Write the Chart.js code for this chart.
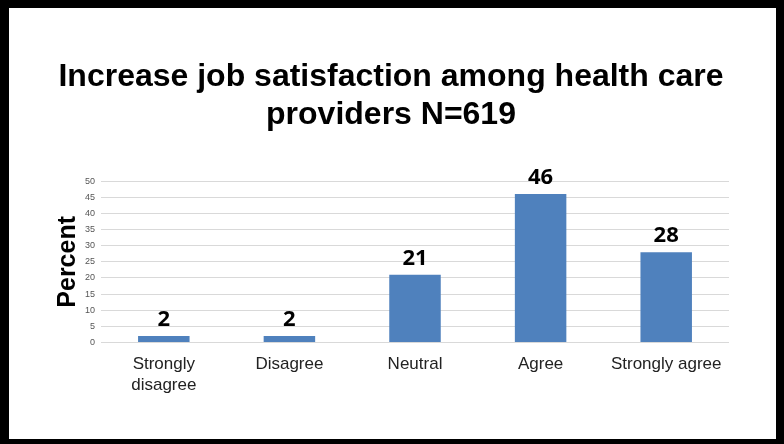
<!DOCTYPE html>
<html lang="en">
<head>
    <meta charset="UTF-8">
    <title>Job satisfaction</title>
    <script src="https://cdn.jsdelivr.net/npm/chart.js"></script>
    <style>
        html, body { margin: 0; padding: 0; background: #000; }
        body { width: 784px; height: 444px; position: relative; overflow: hidden; }
        #frame { position: absolute; left: 9px; top: 8px; width: 767px; height: 431px; background: #fff; }
    </style>
</head>
<body>
    <div id="frame"><canvas id="satisfactionChart" width="767" height="431"></canvas></div>

    <script>
        const categories = [['Strongly', 'disagree'], 'Disagree', 'Neutral', 'Agree', 'Strongly agree'];
        const percents = [2, 2, 21, 46, 28];
        const yTicks = [0, 5, 10, 15, 20, 25, 30, 35, 40, 45, 50];

        // draw the value of each bar just above it
        const valueLabels = {
            id: 'valueLabels',
            afterDatasetsDraw(chart) {
                const ctx = chart.ctx;
                const meta = chart.getDatasetMeta(0);
                ctx.save();
                ctx.font = 'bold 22px "Open Sans", sans-serif';
                ctx.fillStyle = '#000';
                ctx.textAlign = 'center';
                ctx.textBaseline = 'bottom';
                meta.data.forEach((bar, i) => {
                    ctx.fillText(percents[i], bar.x, bar.y - 5);
                });
                ctx.restore();
            }
        };

        const ctx = document.getElementById('satisfactionChart').getContext('2d');
        const chart = new Chart(ctx, {
            type: 'bar',
            data: {
                labels: categories,
                datasets: [{
                    label: 'Percent',
                    data: percents,
                    backgroundColor: '#4f81bd',
                    categoryPercentage: 1.0,
                    barPercentage: 0.41
                }]
            },
            options: {
                responsive: false,
                animation: false,
                layout: { padding: { left: 44, right: 47, top: 0, bottom: 40 } },
                plugins: {
                    legend: { display: false },
                    tooltip: { enabled: false },
                    title: {
                        display: true,
                        text: ['Increase job satisfaction among health care', 'providers N=619'],
                        color: '#000',
                        font: { family: '"Liberation Sans", Arial, sans-serif', size: 32, weight: 'bold', lineHeight: 1.19 },
                        padding: { top: 50, bottom: 47 }
                    }
                },
                scales: {
                    x: {
                        grid: { display: false },
                        border: { display: false },
                        ticks: {
                            color: '#222',
                            font: { family: '"Liberation Sans", Arial, sans-serif', size: 17, lineHeight: 1.25 },
                            maxRotation: 0,
                            autoSkip: false,
                            padding: 3
                        }
                    },
                    y: {
                        min: 0,
                        max: 50,
                        afterBuildTicks(scale) {
                            scale.ticks = yTicks.map(v => ({ value: v }));
                        },
                        grid: { color: '#d9d9d9', drawTicks: false },
                        border: { display: false },
                        ticks: {
                            color: '#555',
                            font: { family: '"Liberation Sans", Arial, sans-serif', size: 9 },
                            padding: 6
                        },
                        title: {
                            display: true,
                            text: 'Percent',
                            color: '#000',
                            font: { family: '"Liberation Sans", Arial, sans-serif', size: 25, weight: 'bold' },
                            padding: { top: 0, bottom: -4 }
                        }
                    }
                }
            },
            plugins: [valueLabels]
        });
    </script>
</body>
</html>
